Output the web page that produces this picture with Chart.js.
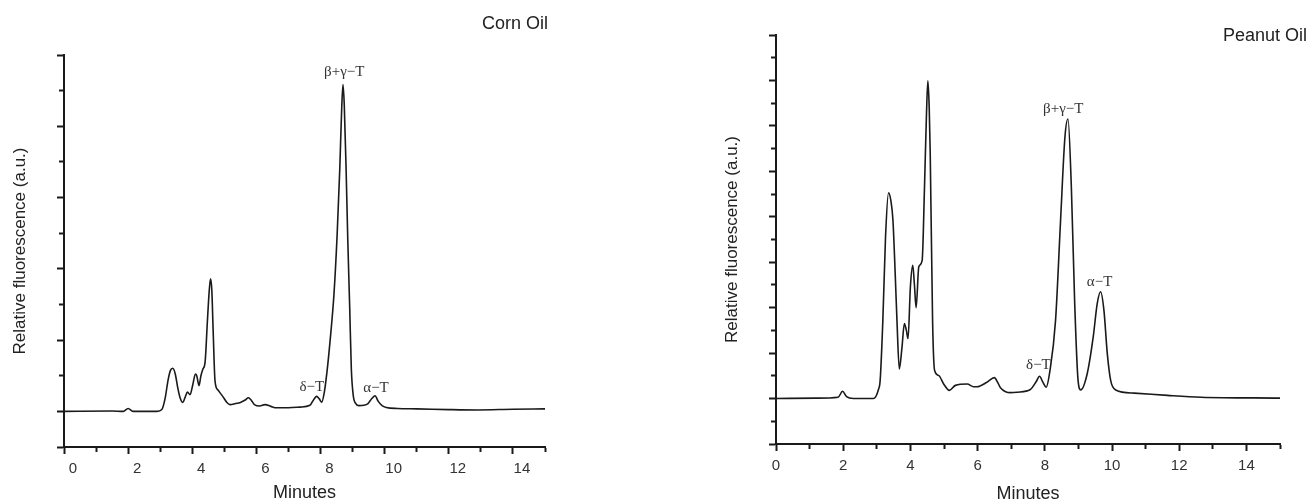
<!DOCTYPE html>
<html>
<head>
<meta charset="utf-8">
<script src="https://cdn.jsdelivr.net/npm/chart.js@4"></script>
<style>
  html, body { margin: 0; padding: 0; background: #fff; }
  body { width: 1309px; height: 501px; position: relative; overflow: hidden; }
  .panel { position: absolute; top: 0; height: 501px; }
  #panel-corn { left: 0; width: 560px; }
  #panel-peanut { left: 712px; width: 597px; }
</style>
</head>
<body>
<div class="panel" id="panel-corn"><canvas id="chart-corn"></canvas></div>
<div class="panel" id="panel-peanut"><canvas id="chart-peanut"></canvas></div>
<script>
// ── data ────────────────────────────────────────────────────
const cornTime = [0, 1.5, 1.85, 2.0, 2.15, 2.9, 3.05, 3.15, 3.25, 3.32, 3.39, 3.47, 3.55, 3.62, 3.7,
  3.78, 3.85, 3.93, 4.01, 4.1, 4.14, 4.21, 4.27, 4.33, 4.4, 4.47, 4.53, 4.57, 4.61, 4.65, 4.71,
  4.8, 4.95, 5.08, 5.18, 5.35, 5.5, 5.65, 5.75, 5.85, 5.95, 6.1, 6.27, 6.45, 6.63, 7.0, 7.36,
  7.67, 7.8, 7.88, 7.96, 8.04, 8.12, 8.2, 8.3, 8.42, 8.52, 8.6, 8.66, 8.7, 8.74, 8.8, 8.85,
  8.91, 8.96, 9.02, 9.1, 9.2, 9.35, 9.48, 9.6, 9.7, 9.8, 9.92, 10.05, 10.4, 11.0, 12.0, 12.9, 14.0, 15.0];
const cornSignal = [0, 0.01, 0, 0.08, 0, 0, 0.05, 0.35, 0.9, 1.15, 1.21, 1.05, 0.65, 0.38, 0.25,
  0.4, 0.54, 0.47, 0.72, 1.05, 1.0, 0.72, 1.0, 1.18, 1.38, 2.5, 3.4, 3.72, 3.4, 2.3, 0.85,
  0.6, 0.42, 0.25, 0.19, 0.22, 0.25, 0.32, 0.38, 0.3, 0.18, 0.15, 0.19, 0.14, 0.1, 0.1, 0.12,
  0.17, 0.35, 0.42, 0.35, 0.26, 0.55, 1.1, 2.0, 3.3, 5.0, 6.8, 8.5, 9.17, 8.6, 6.7, 4.8,
  2.9, 1.2, 0.45, 0.22, 0.16, 0.17, 0.22, 0.36, 0.44, 0.28, 0.16, 0.11, 0.08, 0.07, 0.05, 0.04, 0.06, 0.07];

const peanutTime = [0, 1.2, 1.85, 1.98, 2.1, 2.3, 2.9, 3.05, 3.1, 3.18, 3.26, 3.35, 3.42, 3.48, 3.55,
  3.6, 3.67, 3.75, 3.82, 3.88, 3.93, 4.0, 4.07, 4.12, 4.17, 4.25, 4.35, 4.42, 4.48, 4.52, 4.56,
  4.59, 4.66, 4.72, 4.84, 4.99, 5.16, 5.34, 5.69, 5.88, 5.98, 6.28, 6.5, 6.6, 6.68, 6.98, 7.18,
  7.57, 7.75, 7.84, 7.95, 8.04, 8.15, 8.32, 8.47, 8.6, 8.69, 8.79, 8.89, 8.99, 9.07, 9.26, 9.44,
  9.56, 9.66, 9.76, 9.86, 9.96, 10.11, 10.66, 11.65, 12.65, 15.0];
const peanutSignal = [0, 0.01, 0.03, 0.16, 0.04, 0, 0, 0.2, 0.4, 1.72, 3.56, 4.53, 4.35, 3.93, 2.7,
  1.72, 0.65, 1.13, 1.65, 1.5, 1.32, 2.46, 2.93, 2.5, 2.0, 2.9, 3.04, 4.66, 6.3, 6.99, 6.4,
  5.4, 1.72, 0.62, 0.51, 0.32, 0.18, 0.29, 0.32, 0.26, 0.26, 0.36, 0.46, 0.35, 0.24, 0.13, 0.14,
  0.2, 0.38, 0.49, 0.35, 0.25, 0.6, 1.72, 3.93, 5.76, 6.15, 4.66, 2.09, 0.4, 0.19, 0.54, 1.35,
  2.09, 2.35, 1.94, 0.99, 0.4, 0.19, 0.12, 0.07, 0.03, 0.01];

// peak annotations (minutes, signal)
const peakNames = ['δ−T', 'β+γ−T', 'α−T'];
const cornPeakX = [7.73, 8.74, 9.73];
const cornPeakY = [0.68, 9.53, 0.65];
const peanutPeakX = [7.81, 8.55, 9.63];
const peanutPeakY = [0.73, 6.37, 2.56];

// axis ticks
const xMajorTicks = [0, 2, 4, 6, 8, 10, 12, 14];
const xMinorTicks = [1, 3, 5, 7, 9, 11, 13, 15];
const cornYMajor = [-1, 0, 2, 4, 6, 8, 10];
const cornYMinor = [1, 3, 5, 7, 9];
const peanutYMajor = [-1, 0, 1, 2, 3, 4, 5, 6, 7, 8];
const peanutYMinor = [-0.5, 0.5, 1.5, 2.5, 3.5, 4.5, 5.5, 6.5, 7.5];

const SANS = "'Liberation Sans', Arial, sans-serif";
const SERIF = "'Liberation Serif', 'Times New Roman', serif";
const INK = '#1a1a1a';

// texts drawn on top: peak labels + corner title
const overlayText = {
  id: 'overlayText',
  afterDatasetsDraw(chart, args, opts) {
    const ctx = chart.ctx;
    const xs = chart.scales.x, ys = chart.scales.y;
    ctx.save();
    ctx.fillStyle = '#333';
    ctx.textAlign = 'center';
    ctx.textBaseline = 'middle';
    ctx.font = '15px ' + SERIF;
    opts.names.forEach((n, i) => {
      ctx.fillText(n, xs.getPixelForValue(opts.px[i]), ys.getPixelForValue(opts.py[i]));
    });
    ctx.font = '18px ' + SANS;
    ctx.fillStyle = '#222';
    ctx.textAlign = 'right';
    ctx.fillText(opts.title, chart.chartArea.right + opts.titleDx, opts.titleY);
    ctx.restore();
  }
};

function setTicks(list) {
  return scale => { scale.ticks = list.map(v => ({ value: v })); };
}

function makeChart(canvasId, cfg) {
  const pts = cfg.time.map((t, i) => ({ x: t, y: cfg.signal[i] }));
  return new Chart(document.getElementById(canvasId), {
    type: 'line',
    data: {
      datasets: [{
        data: pts,
        borderColor: INK,
        borderWidth: 1.6,
        pointRadius: 0,
        fill: false,
        cubicInterpolationMode: 'monotone'
      }]
    },
    options: {
      responsive: true,
      maintainAspectRatio: false,
      animation: false,
      layout: { padding: { top: cfg.padTop, right: cfg.padRight, left: 0, bottom: 0 } },
      plugins: {
        legend: { display: false },
        tooltip: { enabled: false },
        overlayText: {
          names: peakNames, px: cfg.peakX, py: cfg.peakY,
          title: cfg.title, titleDx: cfg.titleDx, titleY: cfg.titleY
        }
      },
      scales: {
        x: {
          type: 'linear', position: 'bottom', min: 0, max: 15,
          afterBuildTicks: setTicks(xMajorTicks),
          afterFit: s => { s.height = cfg.xHeight; },
          grid: { drawOnChartArea: false, drawTicks: true, tickLength: 7, tickWidth: 2, tickColor: INK },
          border: { display: true, color: INK, width: 2 },
          ticks: { color: '#333', padding: 6, labelOffset: cfg.labelOffset, maxRotation: 0,
                   font: { family: SANS, size: 15 }, callback: v => String(v) },
          title: { display: true, text: 'Minutes', color: '#222',
                   font: { family: SANS, size: 18 }, padding: { top: 0, bottom: cfg.minutesPad } }
        },
        xMinor: {
          type: 'linear', axis: 'x', position: { y: cfg.yMin }, min: 0, max: 15,
          afterBuildTicks: setTicks(xMinorTicks),
          grid: { drawOnChartArea: false, drawTicks: true, tickLength: 4, tickWidth: 2, tickColor: INK },
          border: { display: true, color: INK, width: 2 },
          ticks: { display: false }
        },
        y: {
          type: 'linear', position: 'left', min: cfg.yMin, max: cfg.yMax,
          afterBuildTicks: setTicks(cfg.yMajor),
          afterFit: s => { s.width = 64; },
          grid: { drawOnChartArea: false, drawTicks: true, tickLength: 7, tickWidth: 2, tickColor: INK },
          border: { display: true, color: INK, width: 2 },
          ticks: { display: false },
          title: { display: true, text: 'Relative fluorescence (a.u.)', color: '#222',
                   font: { family: SANS, size: 17 }, padding: { top: 10, bottom: 0 } }
        },
        yMinor: {
          type: 'linear', axis: 'y', position: { x: 0 }, min: cfg.yMin, max: cfg.yMax,
          afterBuildTicks: setTicks(cfg.yMinor),
          grid: { drawOnChartArea: false, drawTicks: true, tickLength: 4, tickWidth: 2, tickColor: INK },
          border: { display: true, color: INK, width: 2 },
          ticks: { display: false }
        }
      }
    },
    plugins: [overlayText]
  });
}

makeChart('chart-corn', {
  time: cornTime, signal: cornSignal,
  peakX: cornPeakX, peakY: cornPeakY,
  yMin: -1, yMax: 10, yMajor: cornYMajor, yMinor: cornYMinor,
  padTop: 55, padRight: 15, xHeight: 54, labelOffset: 9, minutesPad: -3,
  title: 'Corn Oil', titleDx: 3, titleY: 24
});

makeChart('chart-peanut', {
  time: peanutTime, signal: peanutSignal,
  peakX: peanutPeakX, peakY: peanutPeakY,
  yMin: -1, yMax: 8, yMajor: peanutYMajor, yMinor: peanutYMinor,
  padTop: 35, padRight: 29, xHeight: 57, labelOffset: 0, minutesPad: -4,
  title: 'Peanut Oil', titleDx: 27, titleY: 36
});
</script>
</body>
</html>
